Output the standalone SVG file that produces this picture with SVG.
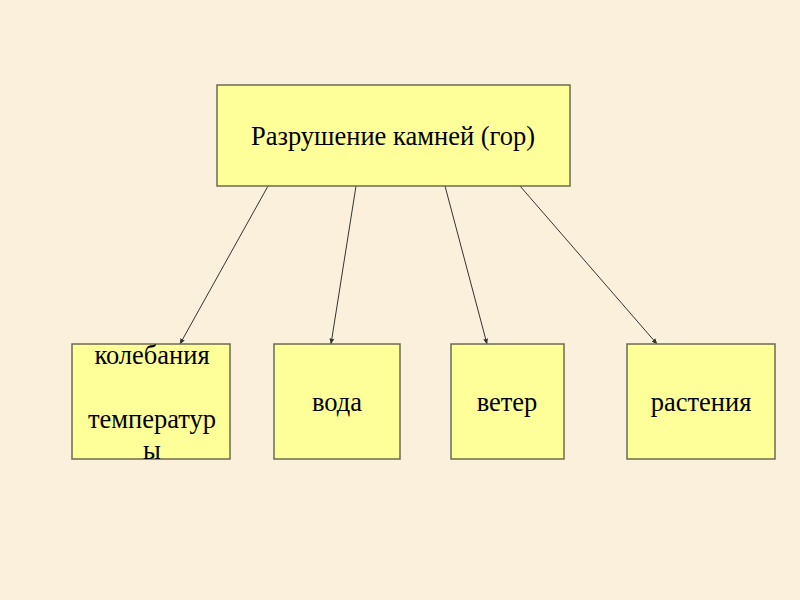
<svg xmlns="http://www.w3.org/2000/svg" width="800" height="600" viewBox="0 0 800 600">
  <style>
    .box { fill: #FFFF99; stroke: #6B6B4F; stroke-width: 1.5; }
    .lbl { font-family: "Liberation Serif", "Times New Roman", serif; font-size: 26.5px; fill: #000; text-anchor: middle; }
    .conn { stroke: #333; stroke-width: 1; fill: none; marker-end: url(#arr); }
  </style>
  <defs>
    <marker id="arr" viewBox="0 0 10 10" refX="9" refY="5" markerWidth="6" markerHeight="6" orient="auto" markerUnits="userSpaceOnUse">
      <path d="M0,1 L10,5 L0,9 z" fill="#333"/>
    </marker>
  </defs>
  <rect width="800" height="600" fill="#FBF0DC"/>
  <g id="connectors">
    <line class="conn" x1="268" y1="186" x2="180" y2="344"/>
    <line class="conn" x1="356" y1="186" x2="331" y2="344"/>
    <line class="conn" x1="445" y1="186" x2="487" y2="344"/>
    <line class="conn" x1="520" y1="186" x2="657" y2="344"/>
  </g>
  <g id="top">
    <rect class="box" x="217" y="85" width="353" height="101"/>
    <text class="lbl" x="393" y="145">Разрушение камней (гор)</text>
  </g>
  <g id="temp">
    <rect class="box" x="72" y="344" width="158" height="115"/>
    <text class="lbl" x="152" y="364">колебания</text>
    <text class="lbl" x="152" y="428">температур</text>
    <text class="lbl" x="152" y="459">ы</text>
  </g>
  <g id="voda">
    <rect class="box" x="274" y="344" width="126" height="115"/>
    <text class="lbl" x="337" y="411">вода</text>
  </g>
  <g id="veter">
    <rect class="box" x="451" y="344" width="113" height="115"/>
    <text class="lbl" x="507" y="411">ветер</text>
  </g>
  <g id="rast">
    <rect class="box" x="627" y="344" width="148" height="115"/>
    <text class="lbl" x="701" y="411">растения</text>
  </g>
</svg>
